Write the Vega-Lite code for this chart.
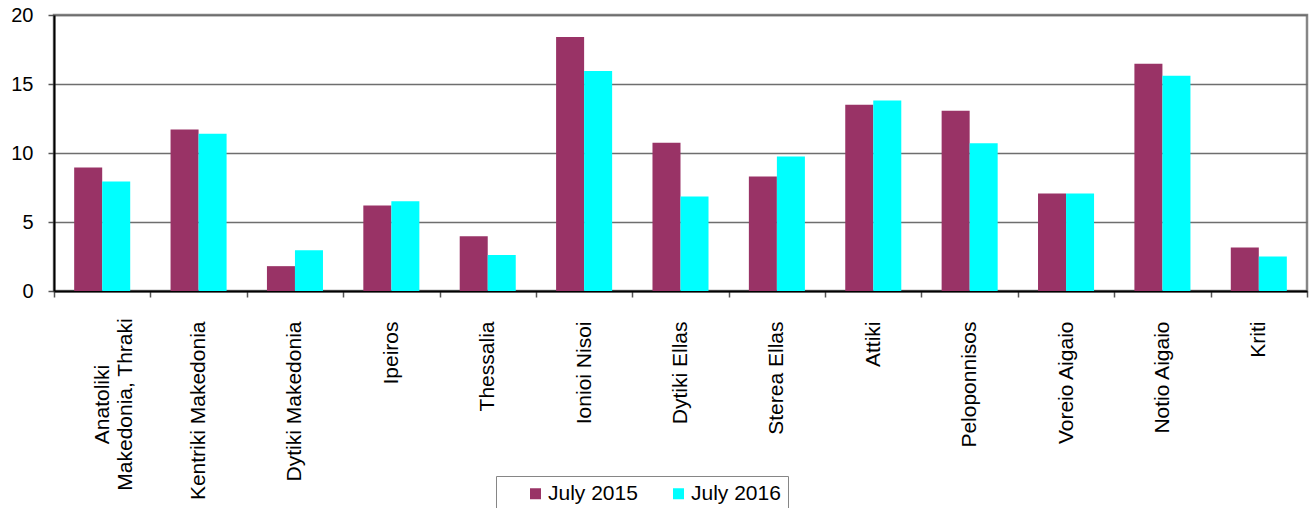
{
  "$schema": "https://vega.github.io/schema/vega-lite/v6.json",
  "width": 1253,
  "height": 276,
  "autosize": {"type": "none"},
  "padding": {"left": 54, "top": 15, "right": 7, "bottom": 217},
  "background": "white",
  "config": {
    "font": "Liberation Sans",
    "view": {"stroke": "#868686", "strokeWidth": 2.5}
  },
  "data": {
    "values": [
      {"region": "Anatoliki Makedonia,  Thraki", "year": "July 2015", "value": 8.95},
      {"region": "Anatoliki Makedonia,  Thraki", "year": "July 2016", "value": 7.94},
      {"region": "Kentriki Makedonia", "year": "July 2015", "value": 11.7},
      {"region": "Kentriki Makedonia", "year": "July 2016", "value": 11.4},
      {"region": "Dytiki Makedonia", "year": "July 2015", "value": 1.8},
      {"region": "Dytiki Makedonia", "year": "July 2016", "value": 2.95},
      {"region": "Ipeiros", "year": "July 2015", "value": 6.2},
      {"region": "Ipeiros", "year": "July 2016", "value": 6.5},
      {"region": "Thessalia", "year": "July 2015", "value": 3.97},
      {"region": "Thessalia", "year": "July 2016", "value": 2.6},
      {"region": "Ionioi Nisoi", "year": "July 2015", "value": 18.4},
      {"region": "Ionioi Nisoi", "year": "July 2016", "value": 15.95},
      {"region": "Dytiki Ellas", "year": "July 2015", "value": 10.75},
      {"region": "Dytiki Ellas", "year": "July 2016", "value": 6.85},
      {"region": "Sterea Ellas", "year": "July 2015", "value": 8.3},
      {"region": "Sterea Ellas", "year": "July 2016", "value": 9.75},
      {"region": "Attiki", "year": "July 2015", "value": 13.5},
      {"region": "Attiki", "year": "July 2016", "value": 13.8},
      {"region": "Peloponnisos", "year": "July 2015", "value": 13.07},
      {"region": "Peloponnisos", "year": "July 2016", "value": 10.7},
      {"region": "Voreio Aigaio", "year": "July 2015", "value": 7.07},
      {"region": "Voreio Aigaio", "year": "July 2016", "value": 7.07},
      {"region": "Notio Aigaio", "year": "July 2015", "value": 16.46},
      {"region": "Notio Aigaio", "year": "July 2016", "value": 15.6},
      {"region": "Kriti", "year": "July 2015", "value": 3.15},
      {"region": "Kriti", "year": "July 2016", "value": 2.5}
    ]
  },
  "mark": {"type": "bar"},
  "encoding": {
    "x": {
      "field": "region",
      "type": "nominal",
      "sort": null,
      "scale": {"paddingInner": 0, "paddingOuter": 0},
      "axis": {
        "title": null,
        "labelAngle": -90,
        "labelAlign": {"condition": {"test": "datum.value == 'Anatoliki Makedonia,  Thraki'", "value": "center"}, "value": "right"},
        "labelBaseline": "middle",
        "labelFontSize": 21,
        "labelColor": "black",
        "labelPadding": {"condition": {"test": "datum.value == 'Anatoliki Makedonia,  Thraki'", "value": 107}, "value": 24},
        "labelLimit": 400,
        "labelLineHeight": 23,
        "tickBand": "extent",
        "tickSize": 6,
        "tickColor": "#555555",
        "tickWidth": 1.5,
        "domainColor": "black",
        "domainWidth": 2,
        "grid": false,
        "labelExpr": "datum.label == 'Anatoliki Makedonia,  Thraki' ? ['Anatoliki', 'Makedonia,  Thraki'] : datum.label"
      }
    },
    "xOffset": {
      "field": "year",
      "type": "nominal",
      "scale": {"paddingOuter": 0.72, "paddingInner": 0}
    },
    "y": {
      "field": "value",
      "type": "quantitative",
      "scale": {"domain": [0, 20], "nice": false},
      "axis": {
        "title": null,
        "values": [0, 5, 10, 15, 20],
        "labelFontSize": 20,
        "labelColor": "black",
        "tickSize": 6,
        "tickColor": "#555555",
        "tickWidth": 1.5,
        "labelPadding": 15,
        "grid": true,
        "gridColor": "#6e6e6e",
        "gridWidth": 1.3,
        "domainColor": "black",
        "domainWidth": 2
      }
    },
    "color": {
      "field": "year",
      "type": "nominal",
      "scale": {"domain": ["July 2015", "July 2016"], "range": ["#993366", "#00ffff"]},
      "legend": {
        "orient": "none",
        "legendX": 442,
        "legendY": 461,
        "direction": "horizontal",
        "title": "\u2002",
        "titleOrient": "left",
        "titleFontSize": 20,
        "titlePadding": 22,
        "padding": 7,
        "strokeColor": "#868686",
        "fillColor": "white",
        "symbolType": "square",
        "symbolSize": 121,
        "symbolStrokeWidth": 0,
        "symbolOpacity": 1,
        "labelFontSize": 21,
        "labelColor": "black",
        "labelOffset": 2,
        "columnPadding": 30,
        "labelExpr": "datum.label == 'July 2016' ? 'July 2016\u2002\u2002' : datum.label"
      }
    }
  }
}
